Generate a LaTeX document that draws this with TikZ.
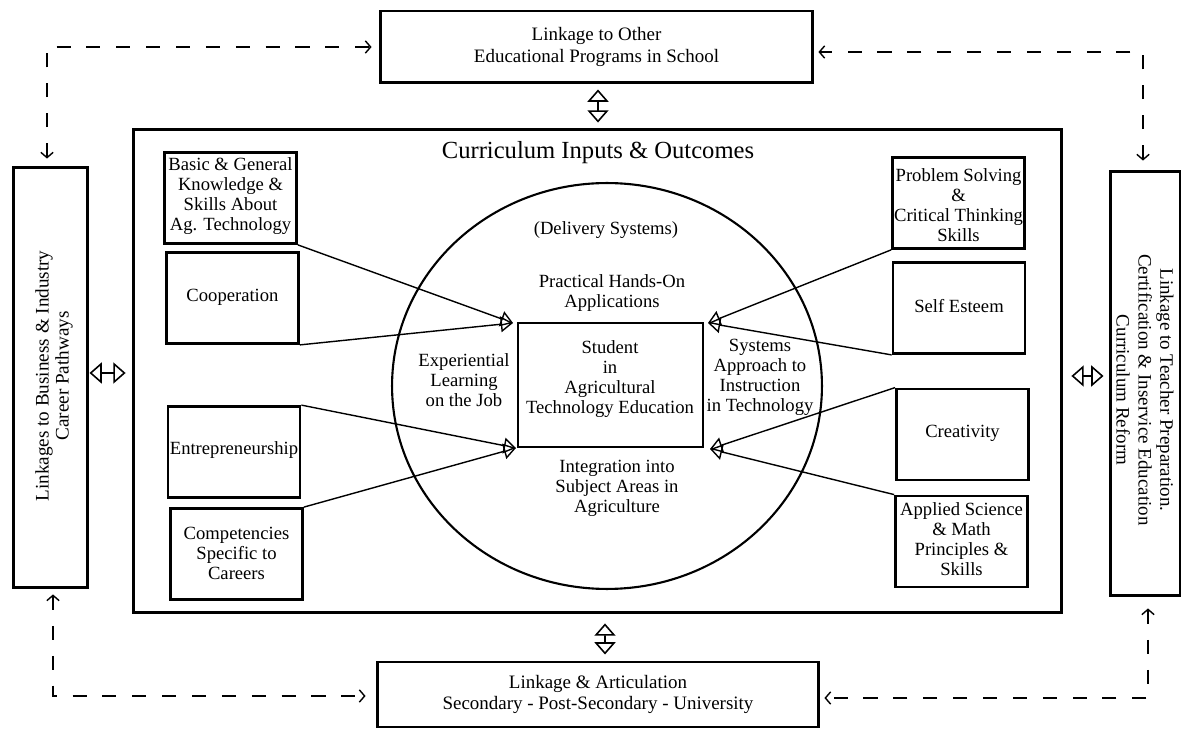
\documentclass[tikz,border=0pt]{standalone}
\usepackage{fontspec}
\setmainfont{Liberation Serif}
\usetikzlibrary{arrows.meta,calc,shapes.geometric}
\begin{document}
\begin{tikzpicture}[x=0.02cm,y=-0.02cm,
  bigbox/.style={draw,line width=1.7pt,inner sep=0pt},
  sbox/.style={draw,line width=1.6pt,inner sep=0pt,minimum width=2.64cm,minimum height=1.82cm},
  txt/.style={align=center,inner sep=0pt,font=\fontsize{10.6}{11.4}\selectfont},
  btxt/.style={align=center,inner sep=0pt,font=\fontsize{10.8}{12}\selectfont},
  conn/.style={line width=0.8pt,-{Triangle[open,length=7pt,width=9pt,line width=0.8pt]}},
  dbl/.style={line width=0.9pt,{Triangle[open,length=7pt,width=12pt]}-{Triangle[open,length=7pt,width=12pt]}},
  dsh/.style={line width=0.8pt,dash pattern=on 8pt off 9pt,{Straight Barb[length=3pt,width=7pt]}-{Straight Barb[length=3pt,width=7pt]}}
]
\useasboundingbox (0,0) rectangle (1181,729);

% outer boxes
\node[bigbox,minimum width=8.66cm,minimum height=1.44cm,btxt] (top) at (596.5,47) {Linkage to Other\\Educational Programs in School};
\node[bigbox,minimum width=8.84cm,minimum height=1.3cm,btxt] (bot) at (598,694.5) {Linkage \& Articulation\\Secondary - Post-Secondary - University};
\node[bigbox,minimum width=18.58cm,minimum height=9.68cm] (main) at (597.5,371) {};
\node[bigbox,minimum width=1.5cm,minimum height=8.42cm] (leftbox) at (50.5,377.5) {};
\node[bigbox,minimum width=1.4cm,minimum height=8.5cm] (rightbox) at (1145,383.5) {};
\node[btxt,rotate=90,font=\fontsize{10.9}{11.4}\selectfont] (lefttxt) at (54,376) {Linkages to Business \& Industry\\Career Pathways};
\node[btxt,rotate=-90,font=\fontsize{10.8}{12.5}\selectfont] (righttxt) at (1145,390) {Linkage to Teacher Preparation.\\Certification \& Inservice Education\\Curriculum Reform};

% title
\node[inner sep=0pt,font=\fontsize{14}{16}\selectfont] (title) at (598,153) {Curriculum Inputs \& Outcomes};

% circle and centre box
\node[draw,ellipse,line width=1.2pt,inner sep=0pt,minimum width=8.6cm,minimum height=8.12cm] (circ) at (607,386) {};
\node[draw,line width=1.4pt,inner sep=0pt,minimum width=3.7cm,minimum height=2.48cm] (ctr) at (610.5,385) {};
\node[txt] (ctrtxt) at (610,379) {Student\\in\\Agricultural\\Technology Education};
\node[txt] (deliv) at (606,230) {(Delivery Systems)};
\node[txt] (pract) at (612,293) {Practical Hands-On\\Applications};
\node[txt] (exper) at (464,380) {Experiential\\Learning\\on the Job};
\node[txt] (syst) at (760,377) {Systems\\Approach to\\Instruction\\in Technology};
\node[txt] (integ) at (617,488) {Integration into\\Subject Areas in\\Agriculture};

% left small boxes
\node[sbox] (basic) at (230.5,198) {};
\node[txt] (basictxt) at (230.5,196) {Basic \& General\\Knowledge \&\\Skills About\\Ag. Technology};
\node[sbox] (coop) at (232.5,298) {};
\node[txt] (cooptxt) at (232.5,297) {Cooperation};
\node[sbox] (entre) at (234,452) {};
\node[txt] (entretxt) at (234,450) {Entrepreneurship};
\node[sbox] (comp) at (236.5,554) {};
\node[txt] (comptxt) at (236.5,553) {Competencies\\Specific to\\Careers};

% right small boxes
\node[sbox] (prob) at (958.5,203) {};
\node[txt] (probtxt) at (958.5,205) {Problem Solving\\\&\\Critical Thinking\\Skills};
\node[sbox] (self) at (959,308) {};
\node[txt] (selftxt) at (959,306) {Self Esteem};
\node[sbox] (creat) at (962.5,434.5) {};
\node[txt] (creattxt) at (962.5,433) {Creativity};
\node[sbox] (appl) at (961.5,541.5) {};
\node[txt] (appltxt) at (961.5,539) {Applied Science\\\& Math\\Principles \&\\Skills};

% converging arrows
\coordinate (tipLT) at (513,323);
\coordinate (tipLB) at (516,448);
\coordinate (tipRT) at (708,323);
\coordinate (tipRB) at (710,449);
\draw[conn] (basic.south east) -- (tipLT);
\draw[conn] (coop.south east) -- (tipLT);
\draw[conn] (entre.north east) -- (tipLB);
\draw[conn] (comp.north east) -- (tipLB);
\draw[conn] (prob.south west) -- (tipRT);
\draw[conn] (self.south west) -- (tipRT);
\draw[conn] (creat.north west) -- (tipRB);
\draw[conn] (appl.north west) -- (tipRB);

% double arrows
\draw[dbl] ($(top.south)+(1.5,5)$) -- ($(main.north)+(0.5,-5)$);
\draw[dbl] ($(main.south)+(7.5,9)$) -- ($(bot.north)+(7,-6)$);
\draw[dbl] ($(leftbox.east)+(0,-4.5)$) -- ($(main.west)+(-6,2)$);
\draw[dbl] ($(main.east)+(8,5)$) -- ($(rightbox.west)+(-5,-7.5)$);

% dashed linkages
\draw[dsh] ($(leftbox.north)+(-3.5,-7)$) |- ($(top.west)+(-7,0)$);
\draw[dsh] ($(rightbox.north)+(-2,-9)$) |- ($(top.east)+(4,5)$);
\draw[dsh] ($(leftbox.south)+(2.5,5)$) |- ($(bot.west)+(-10,1.5)$);
\draw[dsh] ($(rightbox.south)+(3,11)$) |- ($(bot.east)+(4,3.5)$);
\end{tikzpicture}
\end{document}
